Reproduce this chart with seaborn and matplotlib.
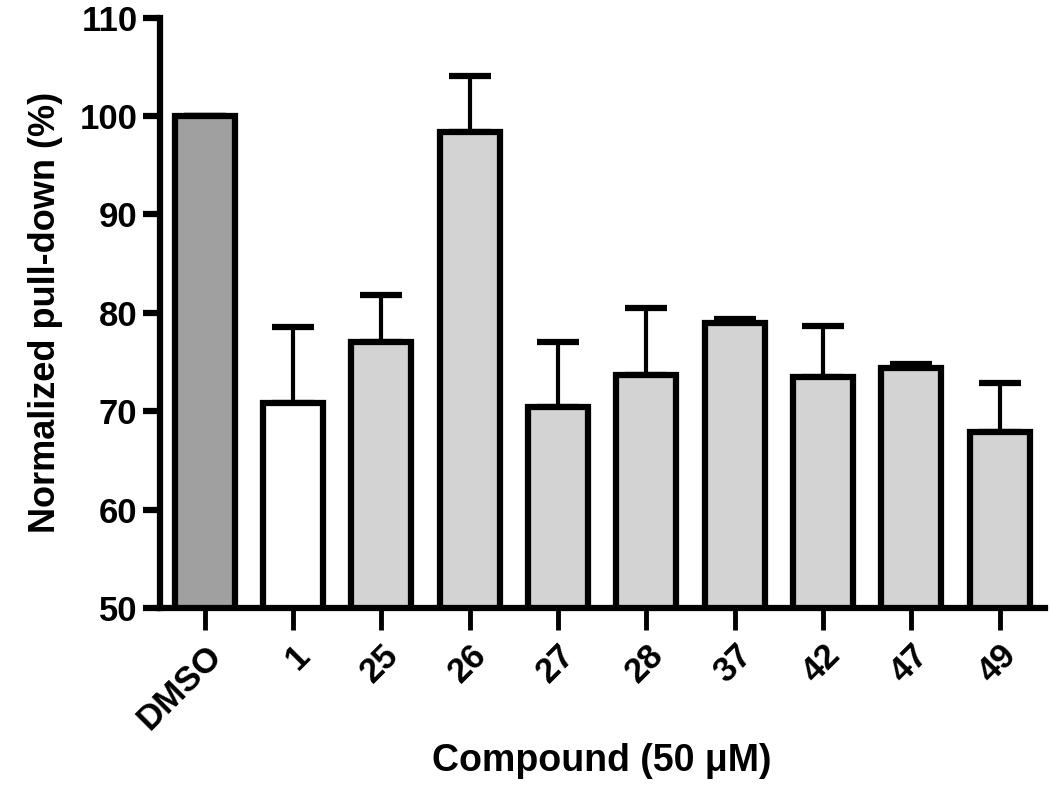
import numpy as np
import pandas as pd
import seaborn as sns
import matplotlib.pyplot as plt

compounds = ['DMSO', '1', '25', '26', '27', '28', '37', '42', '47', '49']
pulldown = [100.0, 70.8, 77.0, 98.4, 70.4, 73.7, 79.0, 73.5, 74.4, 67.9]
sem = [0.0, 7.8, 4.8, 5.7, 6.6, 6.8, 0.4, 5.2, 0.4, 5.0]
bar_colors = ['#a0a0a0', '#ffffff', '#d3d3d3', '#d3d3d3', '#d3d3d3',
              '#d3d3d3', '#d3d3d3', '#d3d3d3', '#d3d3d3', '#d3d3d3']


def main():
    sns.set_style('ticks')
    plt.rcParams['font.family'] = ['Liberation Sans', 'DejaVu Sans']
    plt.rcParams['font.weight'] = 'bold'
    for key in ['text.color', 'axes.labelcolor', 'xtick.color',
                'ytick.color', 'axes.edgecolor']:
        plt.rcParams[key] = 'black'

    df = pd.DataFrame({'Compound': compounds, 'Pulldown': pulldown})

    fig = plt.figure(figsize=(10.5, 7.86), dpi=100)
    ax = fig.add_axes([0.152, 0.2265, 0.843, 0.751])

    # error bars first (upper only), bars drawn over them
    ax.errorbar(np.arange(len(compounds)), pulldown,
                yerr=[np.zeros(len(sem)), sem], fmt='none',
                ecolor='black', elinewidth=3, capsize=15, capthick=4.5,
                zorder=1)

    sns.barplot(data=df, x='Compound', y='Pulldown', hue='Compound',
                palette=bar_colors, legend=False, width=0.68,
                edgecolor='black', linewidth=4.5, ax=ax, zorder=2)

    ax.set_ylim(50, 110)
    ax.set_xlim(-0.51, len(compounds) - 0.49)
    ax.set_yticks(range(50, 111, 10))

    sns.despine(ax=ax)
    for side in ['left', 'bottom']:
        ax.spines[side].set_linewidth(4.5)

    ax.tick_params(axis='y', length=12, width=4.5, labelsize=25, pad=4)
    ax.tick_params(axis='x', length=16, width=3.5, labelsize=25, pad=6)
    plt.setp(ax.get_xticklabels(), rotation=45, ha='right',
             rotation_mode='anchor', fontweight='bold')
    plt.setp(ax.get_yticklabels(), fontweight='bold')

    ax.set_xlabel('Compound (50 \u03bcM)', fontsize=27, fontweight='bold', labelpad=5)
    ax.set_ylabel('Normalized pull-down (%)', fontsize=26, fontweight='bold', labelpad=12)

    fig.savefig('out.png', dpi=100)


if __name__ == "__main__":
    main()
